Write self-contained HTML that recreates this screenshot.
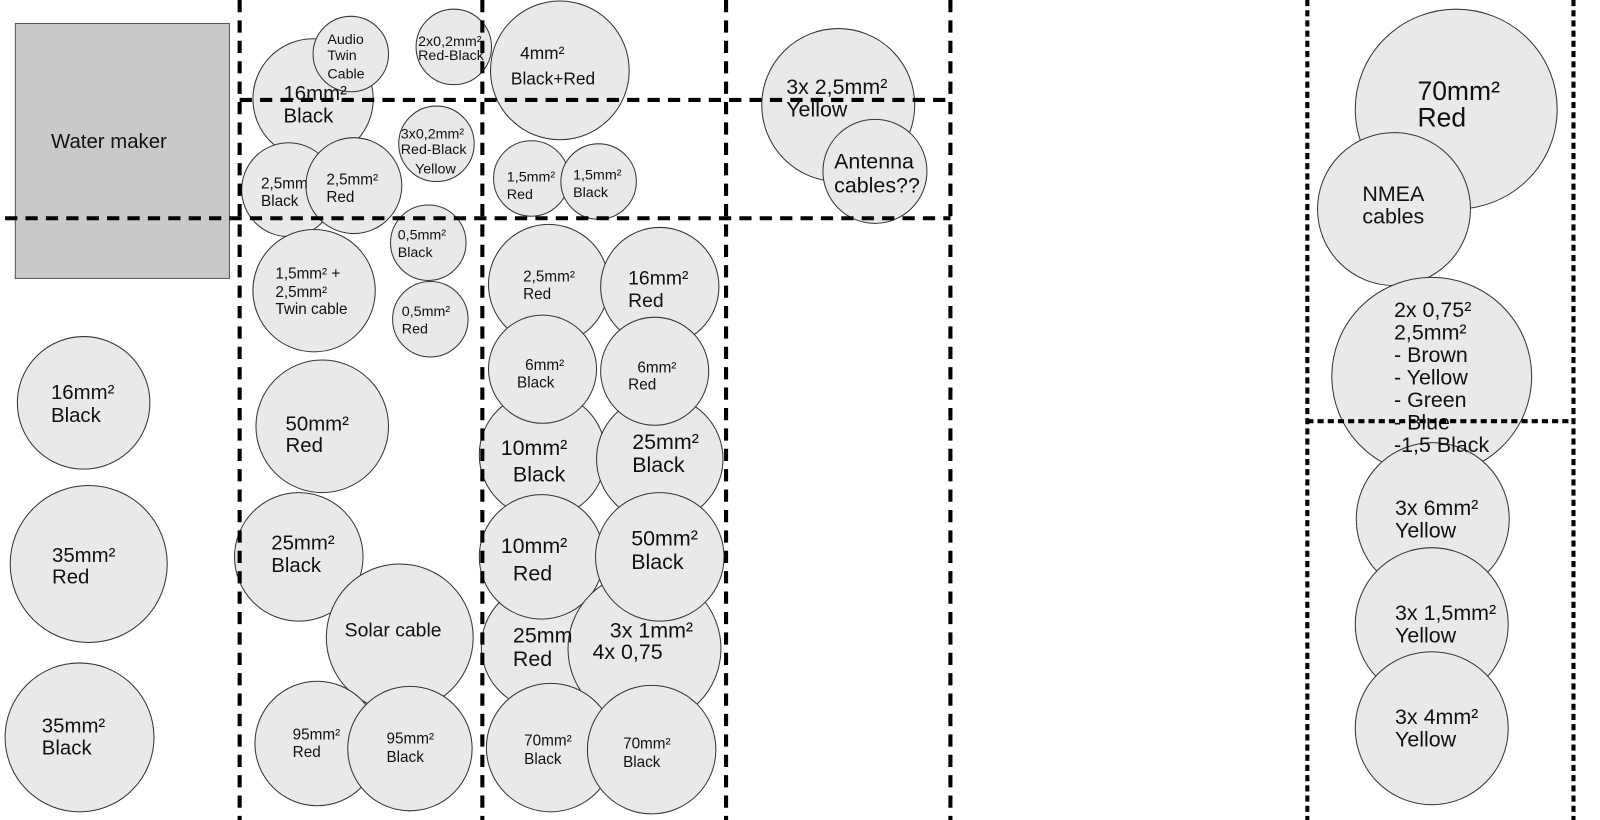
<!DOCTYPE html>
<html><head><meta charset="utf-8"><style>
html,body{margin:0;padding:0;background:#fff;width:1600px;height:820px;overflow:hidden}
svg{display:block}
text{font-family:"Liberation Sans",sans-serif;fill:#111}
</style></head><body>
<svg width="1600" height="820" viewBox="0 0 1569 804" preserveAspectRatio="none" xmlns="http://www.w3.org/2000/svg">
<g fill="#e9e9e9" stroke="#333" stroke-width="1">
<rect x="15" y="23" width="210" height="250" fill="#c9c9c9" stroke="#555"/>
<circle cx="82" cy="395" r="65"/>
<circle cx="87" cy="553" r="77"/>
<circle cx="78" cy="723" r="73"/>
<circle cx="307" cy="97" r="59"/>
<circle cx="344" cy="53" r="37"/>
<circle cx="445" cy="46" r="37"/>
<circle cx="428" cy="141" r="37"/>
<circle cx="283" cy="186" r="46"/>
<circle cx="347" cy="182" r="47"/>
<circle cx="420" cy="238" r="37"/>
<circle cx="422" cy="313" r="37"/>
<circle cx="308" cy="285" r="60"/>
<circle cx="316" cy="418" r="65"/>
<circle cx="293" cy="546" r="63"/>
<circle cx="392" cy="625" r="72"/>
<circle cx="311" cy="729" r="61"/>
<circle cx="402" cy="734" r="61"/>
<circle cx="549" cy="69" r="68"/>
<circle cx="521" cy="175" r="37"/>
<circle cx="587" cy="178" r="37"/>
<circle cx="538" cy="279" r="59"/>
<circle cx="647" cy="281" r="58"/>
<circle cx="532" cy="446" r="62"/>
<circle cx="647" cy="450" r="62"/>
<circle cx="532" cy="362" r="53"/>
<circle cx="642" cy="364" r="53"/>
<circle cx="534" cy="634" r="62"/>
<circle cx="531" cy="546" r="61"/>
<circle cx="632" cy="636" r="75"/>
<circle cx="647" cy="546" r="63"/>
<circle cx="540" cy="733" r="63"/>
<circle cx="639" cy="735" r="63"/>
<circle cx="822" cy="103" r="75"/>
<circle cx="858" cy="168" r="51"/>
<ellipse cx="1428" cy="107" rx="99" ry="98"/>
<circle cx="1367" cy="205" r="75"/>
<ellipse cx="1404" cy="369" rx="98" ry="97"/>
<circle cx="1405" cy="509" r="75"/>
<circle cx="1404" cy="612" r="75"/>
<circle cx="1404" cy="714" r="75"/>
</g>
<g font-size="20">
<text x="50" y="145">Water maker</text>
<text x="50" y="391">16mm²</text><text x="50" y="414">Black</text>
<text x="51" y="551">35mm²</text><text x="51" y="572">Red</text>
<text x="41" y="718">35mm²</text><text x="41" y="740">Black</text>
<text x="278" y="98">16mm²</text><text x="278" y="120">Black</text>
<text x="280" y="422">50mm²</text><text x="280" y="443">Red</text>
<text x="266" y="539">25mm²</text><text x="266" y="561">Black</text>
</g>
<g font-size="14">
<text x="321" y="43">Audio</text><text x="321" y="59">Twin</text><text x="321" y="77">Cable</text>
<text x="410" y="45">2x0,2mm²</text><text x="410" y="59">Red-Black</text>
<text x="393" y="136">3x0,2mm²</text><text x="393" y="151">Red-Black</text><text x="407" y="170">Yellow</text>
<text x="390" y="235">0,5mm²</text><text x="390" y="252">Black</text>
<text x="394" y="310">0,5mm²</text><text x="394" y="327">Red</text>
<text x="510" y="58" font-size="17">4mm²</text><text x="501" y="83" font-size="17">Black+Red</text>
<text x="497" y="178">1,5mm²</text><text x="497" y="195">Red</text>
<text x="562" y="176">1,5mm²</text><text x="562" y="193">Black</text>
</g>
<g font-size="15">
<text x="256" y="185">2,5mm</text><text x="256" y="202">Black</text>
<text x="320" y="181">2,5mm²</text><text x="320" y="198">Red</text>
<text x="270" y="273">1,5mm² +</text><text x="270" y="291">2,5mm²</text><text x="270" y="308">Twin cable</text>
<text x="513" y="276">2,5mm²</text><text x="513" y="293">Red</text>
<text x="515" y="363">6mm²</text><text x="507" y="380">Black</text>
<text x="625" y="365">6mm²</text><text x="616" y="382">Red</text>
<text x="287" y="725">95mm²</text><text x="287" y="742">Red</text>
<text x="379" y="729">95mm²</text><text x="379" y="747">Black</text>
<text x="514" y="731">70mm²</text><text x="514" y="749">Black</text>
<text x="611" y="734">70mm²</text><text x="611" y="752">Black</text>
</g>
<g font-size="19">
<text x="616" y="279">16mm²</text><text x="616" y="301">Red</text>
<text x="338" y="624">Solar cable</text>
</g>
<g font-size="21">
<text x="491" y="446">10mm²</text><text x="503" y="472">Black</text>
<text x="620" y="440">25mm²</text><text x="620" y="463">Black</text>
<text x="491" y="542">10mm²</text><text x="503" y="569">Red</text>
<text x="619" y="535">50mm²</text><text x="619" y="558">Black</text>
<text x="503" y="630">25mm</text><text x="503" y="653">Red</text>
<text x="598" y="625">3x 1mm²</text><text x="581" y="646">4x 0,75</text>
<text x="771" y="92">3x 2,5mm²</text><text x="771" y="114">Yellow</text>
<text x="818" y="165">Antenna</text><text x="818" y="189">cables??</text>
<text x="1390" y="98" font-size="26">70mm²</text><text x="1390" y="124" font-size="26">Red</text>
<text x="1336" y="197">NMEA</text><text x="1336" y="219">cables</text>
<text x="1367" y="311">2x 0,75²</text><text x="1367" y="333">2,5mm²</text><text x="1367" y="355">- Brown</text><text x="1367" y="377">- Yellow</text><text x="1367" y="399">- Green</text><text x="1367" y="421">- Blue</text><text x="1367" y="443">-1,5 Black</text>
<text x="1368" y="505">3x 6mm²</text><text x="1368" y="527">Yellow</text>
<text x="1368" y="608">3x 1,5mm²</text><text x="1368" y="630">Yellow</text>
<text x="1368" y="710">3x 4mm²</text><text x="1368" y="732">Yellow</text>
</g>
<g stroke="#000" stroke-width="4" fill="none" stroke-dasharray="12 8">
<line x1="235" y1="0" x2="235" y2="804"/>
<line x1="473" y1="0" x2="473" y2="804"/>
<line x1="712" y1="0" x2="712" y2="804"/>
<line x1="932" y1="0" x2="932" y2="804"/>
<line x1="235" y1="98" x2="932" y2="98"/>
<line x1="5" y1="214" x2="932" y2="214"/>
</g>
<g stroke="#000" stroke-width="4" fill="none" stroke-dasharray="6 4">
<line x1="1282" y1="0" x2="1282" y2="804"/>
<line x1="1543" y1="0" x2="1543" y2="804"/>
<line x1="1282" y1="413" x2="1545" y2="413"/>
</g>
</svg>
</body></html>
